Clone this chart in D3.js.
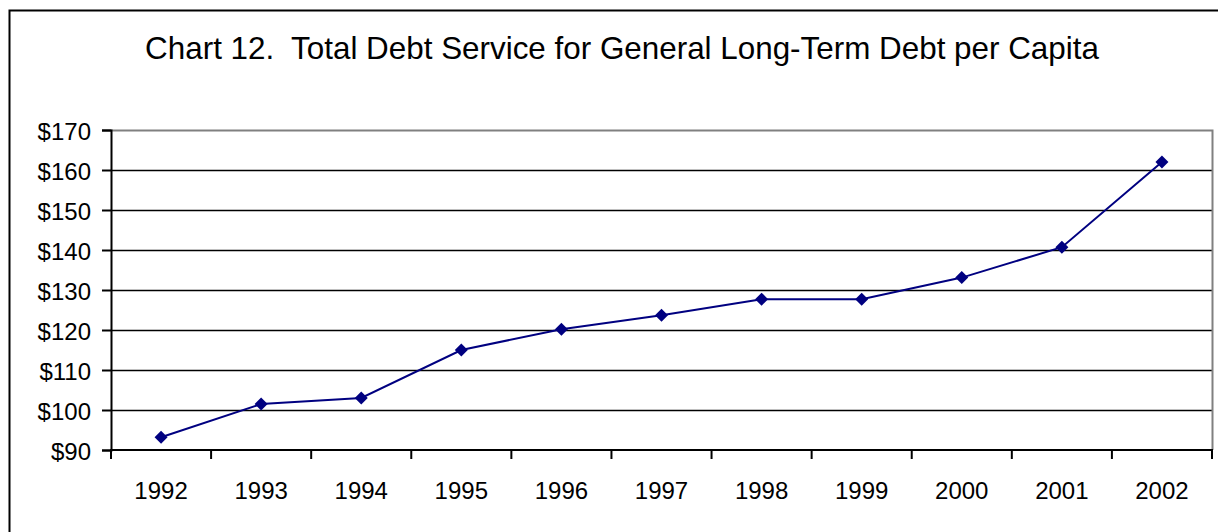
<!DOCTYPE html>
<html>
<head>
<meta charset="utf-8">
<script src="https://cdn.jsdelivr.net/npm/d3@7"></script>
<style>
  html, body { margin: 0; padding: 0; background: #fff; }
  svg { display: block; }
  text { font-family: "Liberation Sans", Arial, sans-serif; fill: #000; }
</style>
</head>
<body>
<svg id="chart" width="1218" height="532"></svg>
<script>
const years = ["1992","1993","1994","1995","1996","1997","1998","1999","2000","2001","2002"];
const debtService = [93.2, 101.5, 103.0, 115.0, 120.2, 123.7, 127.7, 127.7, 133.1, 140.7, 162.0];
const yTicks = [90, 100, 110, 120, 130, 140, 150, 160, 170];
const titleText = "Chart 12.  Total Debt Service for General Long-Term Debt per Capita";

const svg = d3.select("#chart");
const W = 1218, H = 532;
const plot = { left: 111, right: 1212, top: 130, bottom: 450 };

svg.append("rect").attr("x", 0).attr("y", 0).attr("width", W).attr("height", H).attr("fill", "#fff");

// outer chart border (extends past the right/bottom edge)
svg.append("rect")
  .attr("x", 9.5).attr("y", 10.5)
  .attr("width", W + 10).attr("height", H + 10)
  .attr("fill", "none").attr("stroke", "#000").attr("stroke-width", 2);

// title
svg.append("text")
  .attr("x", 622).attr("y", 59)
  .attr("text-anchor", "middle")
  .style("font-size", "31.4px")
  .style("white-space", "pre")
  .attr("xml:space", "preserve")
  .text(titleText);

const x = d3.scaleBand().domain(years).range([plot.left, plot.right]).padding(0);
const y = d3.scaleLinear().domain([90, 170]).range([plot.bottom, plot.top]);

// gridlines
svg.append("g")
  .selectAll("line")
  .data(yTicks.filter(d => d !== 90 && d !== 170))
  .join("line")
  .attr("x1", plot.left).attr("x2", plot.right)
  .attr("y1", d => Math.round(y(d)) + 0.5).attr("y2", d => Math.round(y(d)) + 0.5)
  .attr("stroke", "#000").attr("stroke-width", 1.4);

// plot area border (gray top/right)
svg.append("path")
  .attr("d", `M${plot.left},${plot.top + 0.5}H${plot.right + 0.5}V${plot.bottom}`)
  .attr("fill", "none").attr("stroke", "#808080").attr("stroke-width", 2);

// y axis
const yAxis = d3.axisLeft(y).tickValues(yTicks).tickSize(9).tickPadding(11)
  .tickFormat(d => "$" + d);
const gy = svg.append("g").attr("transform", `translate(${plot.left},0)`).call(yAxis);
gy.select(".domain").attr("stroke", "#000").attr("stroke-width", 2);
gy.selectAll(".tick line").attr("stroke", "#000").attr("stroke-width", 2);
gy.selectAll(".tick text").style("font-size", "24px").attr("font-family", null).attr("fill", "#000").attr("dy", "0.38em");

// x axis: tick marks at band boundaries
const gx = svg.append("g").attr("transform", `translate(0,${plot.bottom})`);
gx.append("line").attr("x1", plot.left - 1).attr("x2", plot.right + 1)
  .attr("y1", 0).attr("y2", 0).attr("stroke", "#000").attr("stroke-width", 2);
const bounds = years.map(d => x(d)).concat([x(years[years.length - 1]) + x.bandwidth()]);
gx.selectAll("line.tk").data(bounds).join("line").attr("class", "tk")
  .attr("x1", d => d).attr("x2", d => d).attr("y1", 0).attr("y2", 9)
  .attr("stroke", "#000").attr("stroke-width", 2);
gx.selectAll("text").data(years).join("text")
  .attr("x", d => x(d) + x.bandwidth() / 2)
  .attr("y", 49)
  .attr("text-anchor", "middle")
  .style("font-size", "24px")
  .text(d => d);

// line
const pts = years.map((d, i) => [x(d) + x.bandwidth() / 2, y(debtService[i])]);
svg.append("path")
  .attr("d", d3.line()(pts))
  .attr("fill", "none").attr("stroke", "#000080").attr("stroke-width", 2);

// square diamond markers
const r = 6.5;
svg.append("g").selectAll("path").data(pts).join("path")
  .attr("transform", d => `translate(${d[0]},${d[1]})`)
  .attr("d", `M0,${-r}L${r},0L0,${r}L${-r},0Z`)
  .attr("fill", "#000080");
</script>
</body>
</html>
